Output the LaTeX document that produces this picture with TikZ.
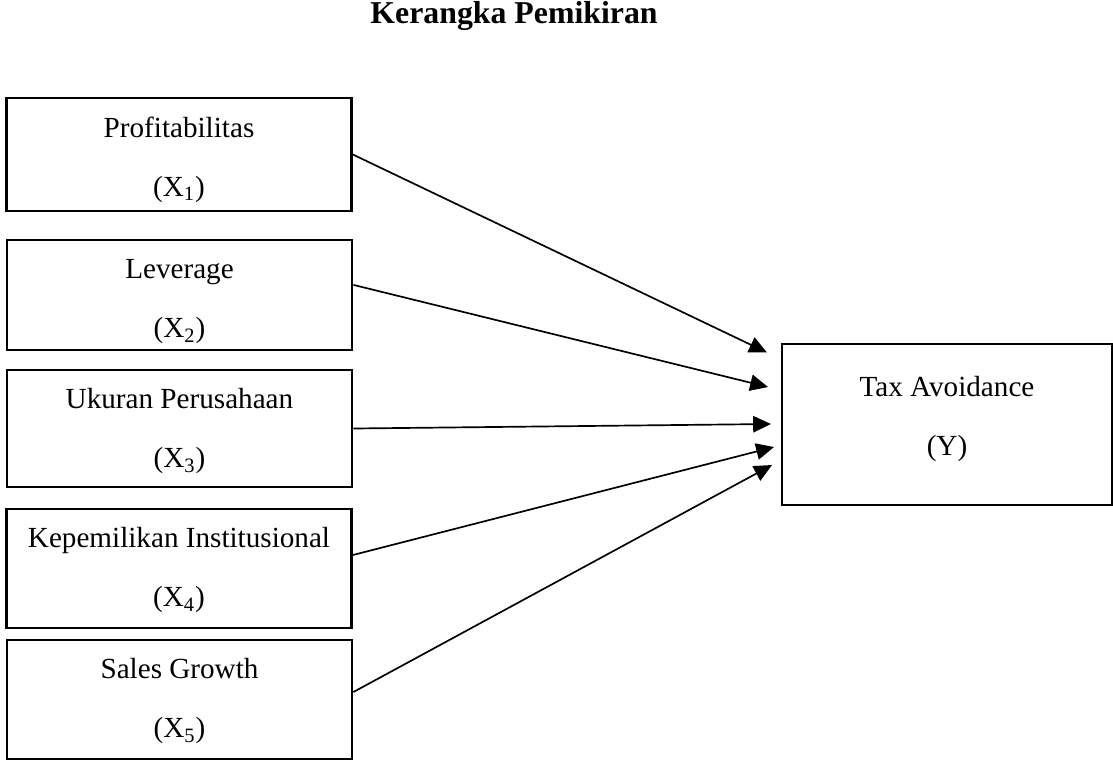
\documentclass[tikz,border=0pt]{standalone}
\usepackage{fontspec}
\setmainfont{Liberation Serif}
\usetikzlibrary{arrows.meta}
\begin{document}
\begin{tikzpicture}[x=0.415pt, y=-0.415pt,
  varbox/.style={draw, line width=1.1pt, minimum width=143.2pt, inner sep=0pt},
  vartext/.style={align=center, inner sep=0pt, font=\fontsize{12.1}{24.5}\selectfont},
  link/.style={line width=0.7pt, -{Triangle[length=7.4pt, width=6.8pt]}}]
  \useasboundingbox (0,0) rectangle (1113,763);
  \node[font=\fontsize{13.2}{16}\selectfont\bfseries, anchor=base] (title) at (514,23) {Kerangka Pemikiran};
  % variable boxes, text shifted inside
  \node[varbox, minimum height=46.9pt, label={[vartext, yshift=-2.1pt]center:Profitabilitas\\(X\textsubscript{1})}] (p1) at (179.0,154.5) {};
  \node[varbox, minimum height=45.7pt, label={[vartext, yshift=-2.9pt]center:Leverage\\(X\textsubscript{2})}] (p2) at (179.5,295.0) {};
  \node[varbox, minimum height=48.6pt, label={[vartext, yshift=-1.2pt]center:Ukuran Perusahaan\\(X\textsubscript{3})}] (p3) at (179.5,428.5) {};
  \node[varbox, minimum height=49.4pt, label={[vartext, yshift=-0.8pt]center:Kepemilikan Institusional\\(X\textsubscript{4})}] (p4) at (179.0,568.5) {};
  \node[varbox, minimum height=49.4pt, label={[vartext, yshift=-0.8pt]center:Sales Growth\\(X\textsubscript{5})}] (p5) at (179.5,699.5) {};
  \node[varbox, minimum width=137pt, minimum height=66.8pt, label={[vartext, yshift=2.1pt]center:Tax Avoidance\\(Y)}] (ty) at (947,424.5) {};
  % arrow tips stop short of the box
  \coordinate (t1) at (767,352.5);
  \coordinate (t2) at (768,387);
  \coordinate (t3) at (771,424);
  \coordinate (t4) at (774,447);
  \coordinate (t5) at (772,465);
  \draw[link] (p1.east) -- (t1);
  \draw[link] ([yshift=4.2pt]p2.east) -- (t2);
  \draw[link] (p3.east) -- (t3);
  \draw[link] ([yshift=5.6pt]p4.east) -- (t4);
  \draw[link] ([yshift=3.1pt]p5.east) -- (t5);
\end{tikzpicture}
\end{document}
